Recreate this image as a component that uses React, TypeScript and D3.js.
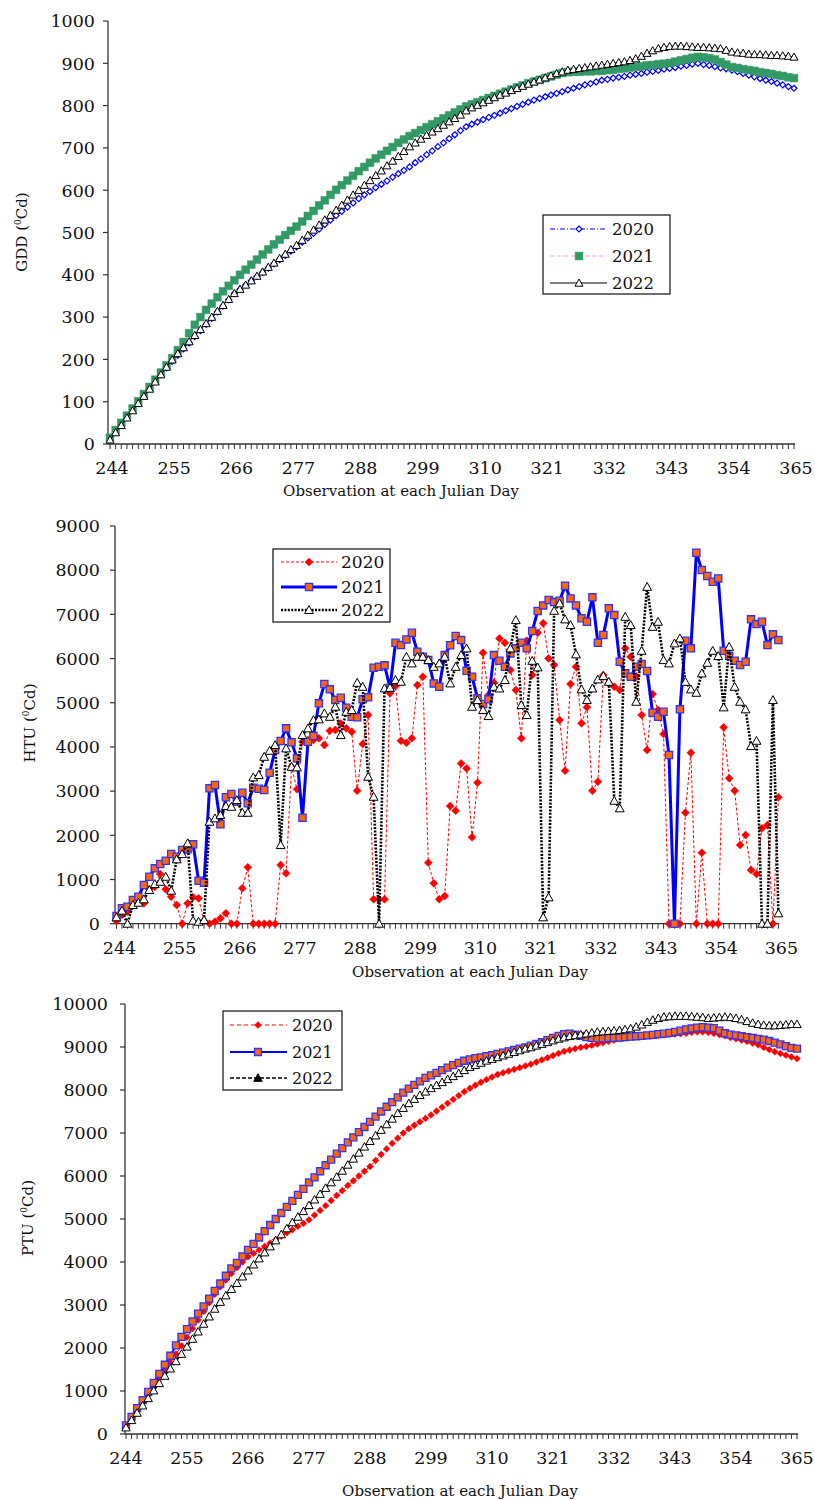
import React from "react";
import * as d3 from "d3";

// Julian days observed (one value per day) and the labelled days on the x axes
const days = d3.range(244, 366);
const dayTicks = [244, 255, 266, 277, 288, 299, 310, 321, 332, 343, 354, 365];
const years = ["2020", "2021", "2022"];

// Growing degree days (°Cd)
const gdd2020 = [
  10, 28, 46, 63, 80, 97, 114, 131, 148, 164, 180,
  195, 210, 225, 239, 254, 268, 283, 297, 312, 326, 341,
  356, 366, 376, 386, 396, 406, 416, 426, 436, 446, 456,
  466, 477, 487, 498, 508, 519, 529, 540, 550, 560, 570,
  580, 589, 597, 606, 614, 622, 631, 639, 647, 655, 665,
  674, 684, 693, 703, 712, 722, 731, 741, 750, 756, 761,
  767, 772, 777, 782, 788, 793, 798, 803, 808, 813, 817,
  821, 825, 829, 833, 837, 841, 845, 849, 852, 856, 860,
  862, 865, 867, 869, 872, 874, 876, 879, 881, 883, 886,
  888, 890, 893, 895, 898, 900, 897, 895, 892, 889, 887,
  884, 880, 876, 872, 868, 864, 860, 857, 853, 849, 845,
  841,
];
const gdd2021 = [
  15, 33, 50, 67, 84, 101, 118, 135, 152, 169, 186,
  203, 222, 241, 262, 282, 300, 317, 332, 347, 361, 374,
  387, 400, 412, 424, 436, 448, 460, 472, 483, 494, 504,
  514, 526, 539, 551, 564, 576, 589, 601, 612, 623, 634,
  645, 655, 665, 675, 684, 693, 702, 712, 720, 728, 735,
  742, 749, 756, 763, 770, 777, 784, 791, 798, 803, 808,
  813, 818, 823, 828, 833, 838, 843, 848, 853, 857, 861,
  865, 869, 873, 877, 879, 880, 880, 881, 881, 882, 882,
  884, 885, 887, 888, 890, 892, 893, 895, 896, 898, 899,
  901, 904, 907, 910, 913, 915, 914, 912, 909, 903, 897,
  891, 889, 886, 884, 882, 879, 877, 875, 872, 870, 867,
  865,
];
const gdd2022 = [
  10, 27, 44, 62, 79, 96, 113, 130, 147, 164, 182,
  199, 214, 228, 242, 257, 271, 285, 300, 314, 328, 342,
  356, 366, 376, 386, 397, 407, 418, 428, 439, 449, 460,
  470, 482, 494, 506, 518, 530, 541, 553, 565, 577, 589,
  600, 612, 623, 635, 646, 658, 669, 680, 692, 703, 712,
  721, 730, 738, 746, 754, 762, 770, 778, 788, 795, 801,
  807, 813, 819, 825, 830, 836, 841, 846, 851, 856, 861,
  866, 871, 876, 880, 884, 886, 888, 890, 892, 894, 896,
  898, 900, 902, 904, 907, 911, 917, 924, 930, 935, 938,
  940, 941, 941, 940, 939, 938, 938, 937, 936, 935, 931,
  927, 925, 924, 922, 921, 921, 920, 919, 919, 918, 917,
  915,
];

// Heliothermal units (°Cd)
const htu2020 = [
  60, 200, 271, 423, 475, 461, 778, 837, 1124, 778, 611,
  423, 0, 461, 597, 575, 68, 0, 45, 122, 235, 0,
  0, 801, 1276, 0, 0, 0, 0, 0, 1328, 1140, 3552,
  3041, 4118, 4156, 4156, 4194, 4043, 4367, 4382, 4533, 4421, 4344,
  3009, 4066, 4722, 552, 552, 552, 5213, 5378, 4140, 4095, 4194,
  5400, 5588, 1380, 914, 552, 627, 2663, 2557, 3628, 3515, 1955,
  3191, 6131, 5174, 5452, 6456, 6357, 5739, 5287, 4194, 6403, 5626,
  6584, 6800, 6004, 5853, 4609, 3462, 5423, 5815, 4534, 4896, 3009,
  3213, 5627, 5438, 5362, 5287, 6231, 6041, 5600, 4722, 3930, 5197,
  4835, 4292, 0, 0, 0, 2511, 3869, 0, 1606, 0, 0,
  0, 4443, 3290, 3009, 1780, 2007, 1215, 1124, 2158, 2233, 0,
  2860,
];
const htu2021 = [
  174, 348, 385, 536, 611, 875, 1063, 1253, 1350, 1425, 1576,
  1515, 1667, 1683, 1796, 973, 927, 3063, 3138, 2249, 2860, 2935,
  2760, 2963, 2724, 3077, 3054, 3025, 3416, 3930, 4133, 4421, 4104,
  3742, 2398, 4118, 4247, 4986, 5423, 5303, 5061, 5113, 4887, 4683,
  4670, 5077, 5122, 5792, 5814, 5846, 5339, 6357, 6305, 6434, 6584,
  6154, 6041, 5966, 5438, 5362, 6079, 6300, 6509, 6418, 5724, 5588,
  5100, 4971, 5077, 6079, 5950, 5814, 6117, 6231, 6357, 6231, 6622,
  7075, 7203, 7324, 7278, 7308, 7647, 7362, 7203, 6910, 6833, 7385,
  6357, 6532, 7136, 6984, 5928, 5665, 5588, 5814, 5876, 5717, 4774,
  4683, 4796, 3817, 0, 4851, 6403, 6231, 8394, 8002, 7867, 7738,
  7814, 6176, 6063, 5950, 5853, 5928, 6887, 6780, 6833, 6305, 6548,
  6418,
];
const htu2022 = [
  145, 295, 0, 423, 475, 552, 762, 898, 950, 1063, 747,
  1457, 1577, 1819, 68, 45, 83, 2308, 2385, 2459, 2663, 2647,
  2799, 2511, 2511, 3312, 3364, 3778, 3914, 4043, 1780, 3968, 3552,
  3538, 4269, 4421, 4608, 4624, 4760, 4683, 4910, 4269, 4796, 4835,
  5452, 5362, 3326, 2873, 0, 5326, 5339, 5514, 5475, 6041, 5891,
  6041, 6041, 5966, 5814, 5891, 6041, 5438, 5814, 6079, 6231, 4910,
  5061, 4835, 4699, 5362, 5324, 5514, 6231, 6871, 4948, 4722, 5950,
  5801, 145, 597, 7081, 7249, 6887, 6758, 6095, 5303, 5061, 5324,
  5529, 5604, 5475, 2783, 2611, 6946, 6758, 5023, 6176, 7624, 6719,
  6833, 5966, 5891, 6344, 6457, 5475, 5303, 5226, 5665, 5905, 6176,
  6057, 4896, 6267, 5362, 5023, 4851, 4020, 4140, 0, 0, 5061,
  235,
];

// Photothermal units (°Cd)
const ptu2020 = [
  150, 350, 540, 730, 910, 1100, 1290, 1480, 1670, 1860, 2050,
  2250, 2450, 2650, 2850, 3050, 3250, 3420, 3580, 3730, 3870, 4000,
  4120, 4200, 4280, 4360, 4440, 4520, 4600, 4680, 4750, 4830, 4900,
  4980, 5090, 5200, 5310, 5430, 5550, 5660, 5780, 5890, 6000, 6110,
  6220, 6360, 6500, 6630, 6760, 6880, 7000, 7100, 7180, 7260, 7340,
  7420, 7510, 7600, 7690, 7780, 7870, 7960, 8040, 8110, 8180, 8240,
  8300, 8360, 8400, 8440, 8480, 8520, 8560, 8600, 8650, 8700, 8750,
  8800, 8850, 8900, 8930, 8960, 8990, 9010, 9040, 9070, 9100, 9130,
  9160, 9190, 9210, 9230, 9240, 9250, 9260, 9260, 9270, 9280, 9290,
  9300, 9310, 9320, 9340, 9350, 9350, 9340, 9320, 9290, 9260, 9220,
  9190, 9160, 9130, 9090, 9050, 8990, 8940, 8890, 8850, 8810, 8770,
  8730,
];
const ptu2021 = [
  200, 400, 600, 790, 980, 1190, 1400, 1610, 1820, 2060, 2260,
  2440, 2620, 2800, 2970, 3150, 3330, 3500, 3680, 3850, 3980, 4130,
  4280, 4420, 4570, 4720, 4860, 5000, 5140, 5280, 5420, 5560, 5700,
  5850, 5970, 6110, 6250, 6380, 6520, 6650, 6780, 6900, 7020, 7140,
  7260, 7380, 7500, 7610, 7720, 7830, 7940, 8030, 8120, 8200, 8280,
  8340, 8400, 8460, 8520, 8580, 8630, 8680, 8710, 8740, 8760, 8790,
  8810, 8840, 8870, 8900, 8930, 8960, 8990, 9030, 9070, 9110, 9160,
  9210, 9260, 9300, 9310, 9290, 9260, 9230, 9210, 9200, 9200, 9210,
  9210, 9220, 9230, 9240, 9250, 9260, 9270, 9280, 9300, 9310, 9330,
  9350, 9380, 9410, 9430, 9450, 9460, 9450, 9440, 9380, 9320, 9290,
  9270, 9250, 9230, 9210, 9190, 9170, 9140, 9100, 9060, 9020, 8980,
  8960,
];
const ptu2022 = [
  150, 320, 490, 660, 830, 1010, 1180, 1350, 1520, 1690, 1860,
  2030, 2210, 2380, 2560, 2730, 2910, 3070, 3220, 3370, 3510, 3660,
  3800, 3940, 4080, 4220, 4360, 4500, 4640, 4780, 4920, 5050, 5180,
  5320, 5450, 5580, 5720, 5850, 5980, 6120, 6260, 6400, 6540, 6680,
  6810, 6940, 7070, 7200, 7330, 7460, 7580, 7690, 7790, 7880, 7960,
  8040, 8110, 8180, 8250, 8320, 8390, 8460, 8530, 8580, 8630, 8680,
  8720, 8760, 8800, 8840, 8880, 8920, 8960, 8990, 9030, 9070, 9110,
  9150, 9190, 9220, 9250, 9270, 9290, 9310, 9330, 9350, 9360, 9370,
  9380, 9390, 9410, 9430, 9470, 9520, 9580, 9630, 9670, 9700, 9710,
  9720, 9720, 9720, 9710, 9700, 9690, 9670, 9680, 9690, 9700, 9690,
  9670, 9640, 9600, 9560, 9530, 9510, 9500, 9500, 9510, 9520, 9530,
  9530,
];

const FONT = "'DejaVu Serif', 'Liberation Serif', serif";
const AXIS = "#333";
const X_TITLE = "Observation at each Julian Day";

type MarkerKind = "diamond" | "square" | "triangle";

function markerPath(kind: MarkerKind, s: number): string {
  if (kind === "diamond") return `M0,${-s}L${s},0L0,${s}L${-s},0Z`;
  if (kind === "square") return `M${-s},${-s}H${s}V${s}H${-s}Z`;
  return `M0,${-s}L${s},${s * 0.8}L${-s},${s * 0.8}Z`;
}

interface SeriesDef {
  label: string;
  values: number[];
  stroke: string;
  width: number;
  dash?: string;
  marker: MarkerKind;
  size: number;
  fill: string;
  mStroke: string;
  mWidth: number;
  legendFill?: string;
}

interface PanelDef {
  title: string;
  x0: number;
  x1: number;
  axisX: number;
  yTop: number;
  yBottom: number;
  yMax: number;
  yStep: number;
  yLabelRight: number;
  xLabelDx: number;
  yTitleX: number;
  yTitleY: number;
  xTitleX: number;
  xTitleY: number;
  series: SeriesDef[];
  legend: {
    x: number;
    y: number;
    w: number;
    h: number;
    rows: number[];
    lx1: number;
    lx2: number;
    mx: number;
    tx: number;
    fs: number;
  };
}

const blueOrange = (values: number[], width: number, size: number): SeriesDef => ({
  label: years[1],
  values,
  stroke: "#0000ff",
  width,
  marker: "square",
  size,
  fill: "#ff6600",
  mStroke: "#3333ff",
  mWidth: 1.3,
});

const panels: PanelDef[] = [
  {
    title: "GDD",
    x0: 110,
    x1: 794,
    axisX: 108,
    yTop: 21,
    yBottom: 444,
    yMax: 1000,
    yStep: 100,
    yLabelRight: 95,
    xLabelDx: 2,
    yTitleX: 22,
    yTitleY: 232,
    xTitleX: 401,
    xTitleY: 496,
    series: [
      {
        label: years[0], values: gdd2020, stroke: "#0000ff", width: 1, dash: "5,2,1,2",
        marker: "diamond", size: 3, fill: "#ffffff", mStroke: "#0000ff", mWidth: 1.2,
      },
      {
        label: years[1], values: gdd2021, stroke: "#ff99ff", width: 1, dash: "4,3",
        marker: "square", size: 3.9, fill: "#339966", mStroke: "#339966", mWidth: 0.5,
      },
      {
        label: years[2], values: gdd2022, stroke: "#000000", width: 1,
        marker: "triangle", size: 4, fill: "#ffffff", mStroke: "#000000", mWidth: 1,
      },
    ],
    legend: { x: 543, y: 215, w: 127, h: 79, rows: [229, 256, 283], lx1: 550, lx2: 607, mx: 579, tx: 612, fs: 16.5 },
  },
  {
    title: "HTU",
    x0: 116.5,
    x1: 778.4,
    axisX: 115,
    yTop: 526,
    yBottom: 923.7,
    yMax: 9000,
    yStep: 1000,
    yLabelRight: 100,
    xLabelDx: 3,
    yTitleX: 30,
    yTitleY: 723,
    xTitleX: 470,
    xTitleY: 977,
    series: [
      {
        label: years[0], values: htu2020, stroke: "#ff0000", width: 1, dash: "3,2",
        marker: "diamond", size: 4, fill: "#ff0000", mStroke: "#ff0000", mWidth: 0.5,
      },
      blueOrange(htu2021, 3, 3.6),
      {
        label: years[2], values: htu2022, stroke: "#000000", width: 2.6, dash: "2,1.4",
        marker: "triangle", size: 4.4, fill: "#ffffff", mStroke: "#000000", mWidth: 1,
      },
    ],
    legend: { x: 273, y: 549, w: 117, h: 73, rows: [562, 587, 610], lx1: 281, lx2: 337, mx: 309, tx: 341, fs: 17 },
  },
  {
    title: "PTU",
    x0: 126,
    x1: 797,
    axisX: 125,
    yTop: 1004,
    yBottom: 1434,
    yMax: 10000,
    yStep: 1000,
    yLabelRight: 108,
    xLabelDx: 0,
    yTitleX: 28,
    yTitleY: 1218,
    xTitleX: 460,
    xTitleY: 1496,
    series: [
      {
        label: years[0], values: ptu2020, stroke: "#ff0000", width: 1, dash: "4,3",
        marker: "diamond", size: 3.4, fill: "#ff0000", mStroke: "#ff0000", mWidth: 0.5,
      },
      blueOrange(ptu2021, 2, 3.5),
      {
        label: years[2], values: ptu2022, stroke: "#000000", width: 1.6, dash: "4,2",
        marker: "triangle", size: 4.2, fill: "#ffffff", mStroke: "#000000", mWidth: 1,
        legendFill: "#000000",
      },
    ],
    legend: { x: 223, y: 1011, w: 119, h: 79, rows: [1025, 1052, 1078], lx1: 230, lx2: 287, mx: 258, tx: 292, fs: 16 },
  },
];

function Panel({ def }: { def: PanelDef }) {
  const x = d3.scaleLinear().domain([244, 365]).range([def.x0, def.x1]);
  const y = d3.scaleLinear().domain([0, def.yMax]).range([def.yBottom, def.yTop]);
  const yTicks = d3.range(0, def.yMax + 1, def.yStep);
  const line = d3
    .line<number>()
    .x((_, i) => x(days[i]))
    .y((v) => y(v));
  const lg = def.legend;

  return (
    <g>
      {/* axes */}
      <line x1={def.axisX} x2={def.axisX} y1={def.yTop} y2={def.yBottom} stroke={AXIS} strokeWidth={1.3} />
      <line x1={def.axisX} x2={x(365) + 1} y1={def.yBottom} y2={def.yBottom} stroke={AXIS} strokeWidth={1.3} />
      {yTicks.map((t) => (
        <g key={`y${t}`}>
          <line x1={def.axisX - 5} x2={def.axisX} y1={y(t)} y2={y(t)} stroke={AXIS} strokeWidth={1.2} />
          <text x={def.yLabelRight} y={y(t)} dy="0.36em" textAnchor="end" fontSize={17.5} fontFamily={FONT} fill="#111">
            {t}
          </text>
        </g>
      ))}
      {days.map((d) => (
        <line key={`xt${d}`} x1={x(d)} x2={x(d)} y1={def.yBottom} y2={def.yBottom + 5} stroke={AXIS} strokeWidth={1} />
      ))}
      {dayTicks.map((d) => (
        <text
          key={`xl${d}`}
          x={x(d) + def.xLabelDx}
          y={def.yBottom + 30}
          textAnchor="middle"
          fontSize={17.5}
          fontFamily={FONT}
          fill="#111"
        >
          {d}
        </text>
      ))}

      {/* axis titles */}
      <text
        transform={`translate(${def.yTitleX},${def.yTitleY}) rotate(-90)`}
        textAnchor="middle"
        dy="0.35em"
        fontSize={15}
        fontFamily={FONT}
        fill="#111"
      >
        {def.title} (
        <tspan fontSize={9} dy={-6}>
          0
        </tspan>
        <tspan dy={6}>Cd)</tspan>
      </text>
      <text x={def.xTitleX} y={def.xTitleY} textAnchor="middle" fontSize={15} fontFamily={FONT} fill="#111">
        {X_TITLE}
      </text>

      {/* series */}
      {def.series.map((s) => (
        <g key={s.label}>
          <path d={line(s.values) ?? ""} fill="none" stroke={s.stroke} strokeWidth={s.width} strokeDasharray={s.dash} />
          {s.values.map((v, i) => (
            <path
              key={i}
              d={markerPath(s.marker, s.size)}
              transform={`translate(${x(days[i])},${y(v)})`}
              fill={s.fill}
              stroke={s.mStroke}
              strokeWidth={s.mWidth}
            />
          ))}
        </g>
      ))}

      {/* legend */}
      <rect x={lg.x} y={lg.y} width={lg.w} height={lg.h} fill="#fff" stroke="#222" strokeWidth={1.3} />
      {def.series.map((s, i) => (
        <g key={`lg${s.label}`}>
          <line x1={lg.lx1} x2={lg.lx2} y1={lg.rows[i]} y2={lg.rows[i]} stroke={s.stroke} strokeWidth={s.width} strokeDasharray={s.dash} />
          <path
            d={markerPath(s.marker, s.size)}
            transform={`translate(${lg.mx},${lg.rows[i]})`}
            fill={s.legendFill ?? s.fill}
            stroke={s.mStroke}
            strokeWidth={s.mWidth}
          />
          <text x={lg.tx} y={lg.rows[i]} dy="0.36em" fontSize={lg.fs} fontFamily={FONT} fill="#111">
            {s.label}
          </text>
        </g>
      ))}
    </g>
  );
}

export default function App() {
  return (
    <svg
      width={815}
      height={1500}
      viewBox="0 0 815 1500"
      style={{ position: "absolute", left: 0, top: 0, background: "#fff" }}
    >
      <rect width={815} height={1500} fill="#fff" />
      {panels.map((p) => (
        <Panel key={p.title} def={p} />
      ))}
    </svg>
  );
}
